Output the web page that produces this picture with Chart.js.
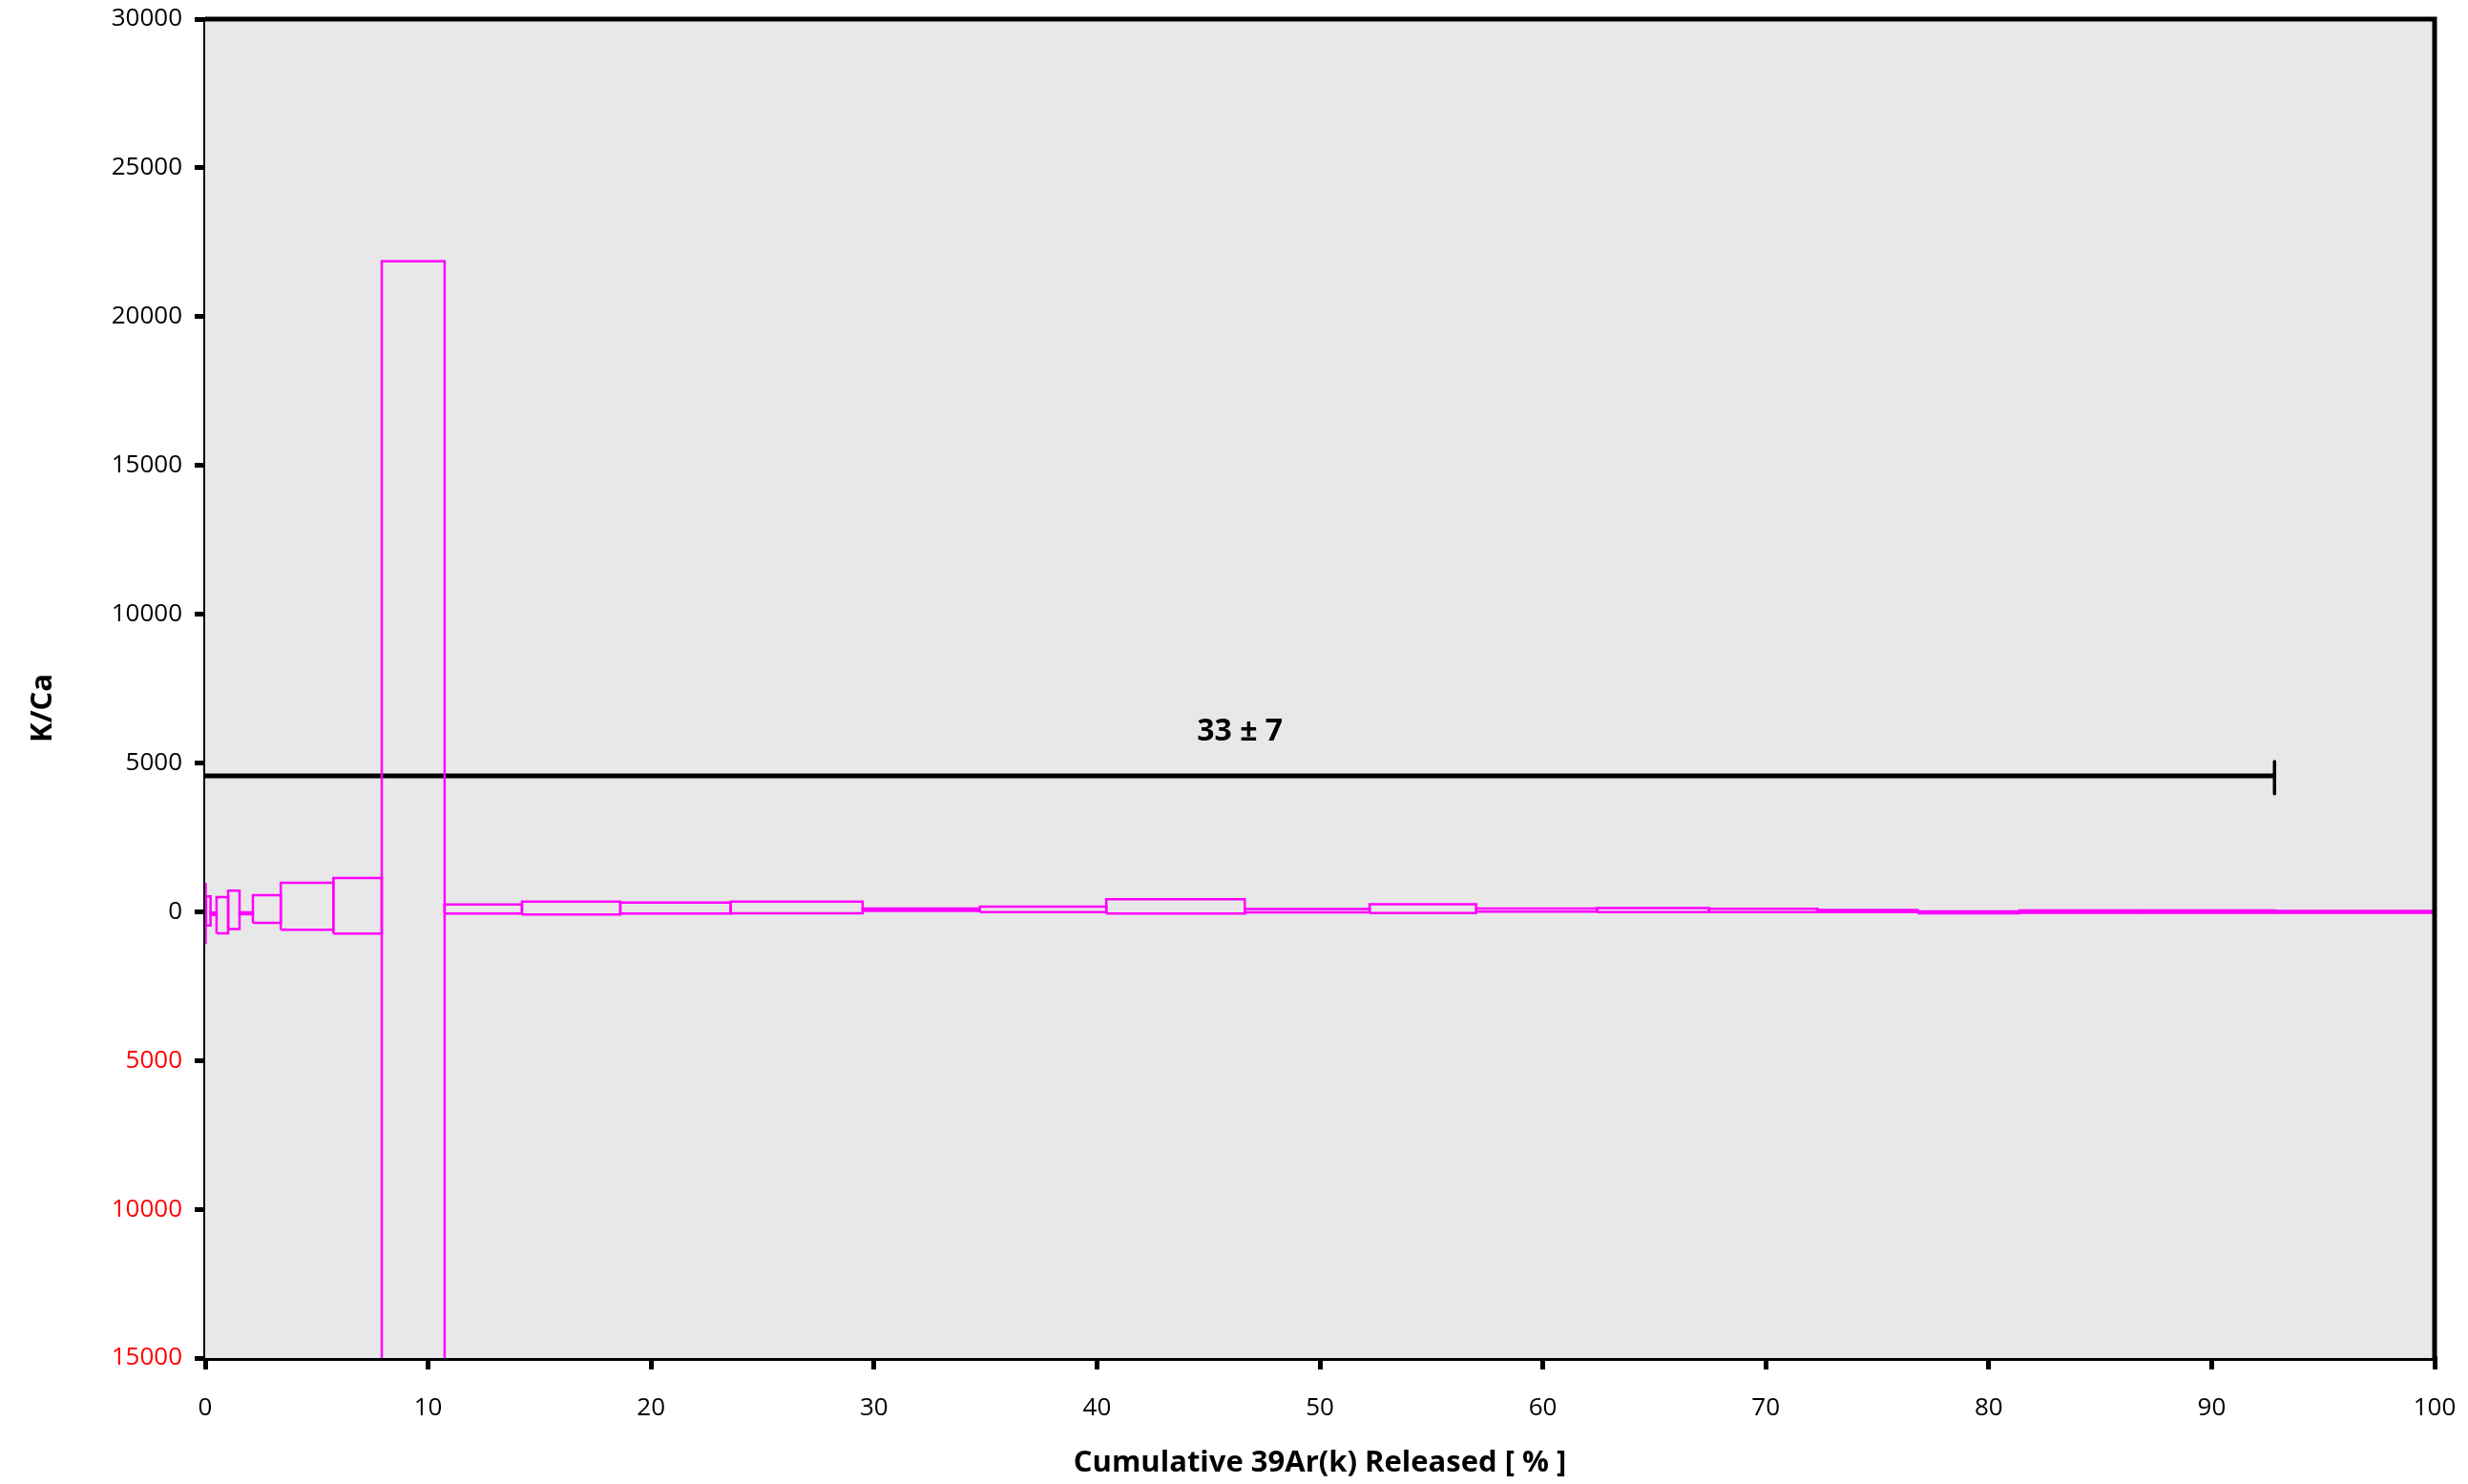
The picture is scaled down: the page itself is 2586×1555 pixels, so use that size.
<!DOCTYPE html>
<html lang="en">
<head>
    <meta charset="UTF-8">
    <title>K/Ca Spectrum</title>
    <script src="https://cdn.jsdelivr.net/npm/chart.js"></script>
    <style>
        body {
            margin: 0;
            background: #ffffff;
        }
        #wrap {
            width: 2586px;
            height: 1555px;
        }
    </style>
</head>
<body>
    <div id="wrap">
        <canvas id="kcaChart"></canvas>
    </div>

    <script>
        // step boundaries, cumulative 39Ar(k) released in %
        const cumRelease = [0, 0.04, 0.24, 0.51, 1.03, 1.54, 2.14, 3.39, 5.75, 7.92, 10.74,
            14.21, 18.62, 23.57, 29.49, 34.75, 40.42, 46.63, 52.23, 57.01, 62.43,
            67.45, 72.32, 76.81, 81.37, 86.72, 92.82, 100];
        // K/Ca of each step and its error (box half height)
        const kca = [-35, 25, -70, -115, 61, -51, 93, 184, 200, 2930,
            88, 125, 125, 146, 67, 82, 180, 34, 103, 56,
            55, 45, 23, -19, 3, 3, -5];
        const kcaErr = [1010, 491, 40, 610, 647, 32, 465, 791, 935, 18930,
            153, 218, 186, 197, 43, 92, 241, 53, 145, 53,
            65, 55, 33, 32, 43, 43, 35];

        const plateauRange = [0, 92.82];
        const plateauLevel = 4567;
        const plateauCap = [3960, 5050];
        const plateauLabel = '33 ± 7';

        const magenta = '#ff00ff';

        const datasets = [];
        for (let i = 0; i < kca.length; i++) {
            const lo = kca[i] - kcaErr[i];
            const hi = kca[i] + kcaErr[i];
            const x0 = cumRelease[i];
            const x1 = cumRelease[i + 1];
            datasets.push({
                data: [
                    {x: x0, y: lo}, {x: x0, y: hi}, {x: x1, y: hi},
                    {x: x1, y: lo}, {x: x0, y: lo}
                ],
                borderColor: magenta,
                borderWidth: 2.5,
                showLine: true,
                pointRadius: 0,
                fill: false,
            });
        }

        // plateau bar and its end cap
        datasets.push({
            data: [{x: plateauRange[0], y: plateauLevel}, {x: plateauRange[1], y: plateauLevel}],
            borderColor: '#000000',
            borderWidth: 5,
            showLine: true,
            pointRadius: 0,
        });
        datasets.push({
            data: [{x: plateauRange[1], y: plateauCap[0]}, {x: plateauRange[1], y: plateauCap[1]}],
            borderColor: '#000000',
            borderWidth: 3.5,
            borderCapStyle: 'round',
            showLine: true,
            pointRadius: 0,
        });

        const plotFrame = {
            id: 'plotFrame',
            beforeDatasetsDraw(chart) {
                const a = chart.chartArea;
                const c = chart.ctx;
                c.save();
                c.fillStyle = '#e8e8e8';
                c.fillRect(a.left, a.top, a.right - a.left, a.bottom - a.top);
                c.restore();
            },
            afterDatasetsDraw(chart) {
                const a = chart.chartArea;
                const c = chart.ctx;
                const xs = chart.scales.x;
                const ys = chart.scales.y;
                c.save();
                c.strokeStyle = '#000000';
                c.lineWidth = 5;
                c.beginPath();
                c.moveTo(a.left, a.top);
                c.lineTo(a.right, a.top);
                c.lineTo(a.right, a.bottom);
                c.stroke();
                c.fillStyle = '#000000';
                c.font = 'bold 32px "Open Sans"';
                c.textAlign = 'center';
                c.textBaseline = 'middle';
                const mid = (plateauRange[0] + plateauRange[1]) / 2;
                c.fillText(plateauLabel, xs.getPixelForValue(mid), ys.getPixelForValue(6040));
                // y axis title, a bit below the middle as in the original
                c.translate(45, 742);
                c.rotate(-Math.PI / 2);
                c.font = 'bold 31px "Open Sans"';
                c.fillText('K/Ca', 0, 0);
                c.restore();
            }
        };

        const chart = new Chart(document.getElementById('kcaChart').getContext('2d'), {
            type: 'scatter',
            data: {datasets: datasets},
            options: {
                responsive: true,
                maintainAspectRatio: false,
                animation: false,
                layout: {
                    autoPadding: false,
                    padding: {left: 0, right: 35, top: 20, bottom: 0}
                },
                plugins: {
                    legend: {display: false},
                    tooltip: {enabled: false},
                },
                elements: {
                    line: {tension: 0}
                },
                scales: {
                    x: {
                        type: 'linear',
                        min: 0,
                        max: 100,
                        afterFit: s => {
                            s.height = 132;
                            s.paddingLeft = 0;
                            s.paddingRight = 0;
                        },
                        ticks: {
                            stepSize: 10,
                            color: '#000000',
                            padding: 25,
                            font: {family: 'Open Sans', size: 26},
                            maxRotation: 0,
                        },
                        grid: {
                            drawOnChartArea: false,
                            tickLength: 12,
                            color: '#000000',
                            lineWidth: 5,
                        },
                        border: {color: '#000000', width: 5},
                        title: {
                            display: true,
                            text: 'Cumulative 39Ar(k) Released [ % ]',
                            color: '#000000',
                            font: {family: 'Open Sans', size: 31, weight: 'bold'},
                            padding: {top: 0, bottom: 3},
                        },
                    },
                    y: {
                        type: 'linear',
                        min: -15000,
                        max: 30000,
                        afterFit: s => {
                            s.width = 215;
                            s.paddingTop = 0;
                            s.paddingBottom = 0;
                        },
                        ticks: {
                            stepSize: 5000,
                            padding: 13,
                            font: {family: 'Open Sans', size: 26},
                            color: c => (c.tick && c.tick.value < 0) ? '#ff0000' : '#000000',
                            callback: v => String(Math.abs(v)),
                        },
                        grid: {
                            drawOnChartArea: false,
                            tickLength: 11,
                            color: '#000000',
                            lineWidth: 5,
                        },
                        border: {color: '#000000', width: 5},
                    },
                },
            },
            plugins: [plotFrame],
        });
    </script>
</body>
</html>
